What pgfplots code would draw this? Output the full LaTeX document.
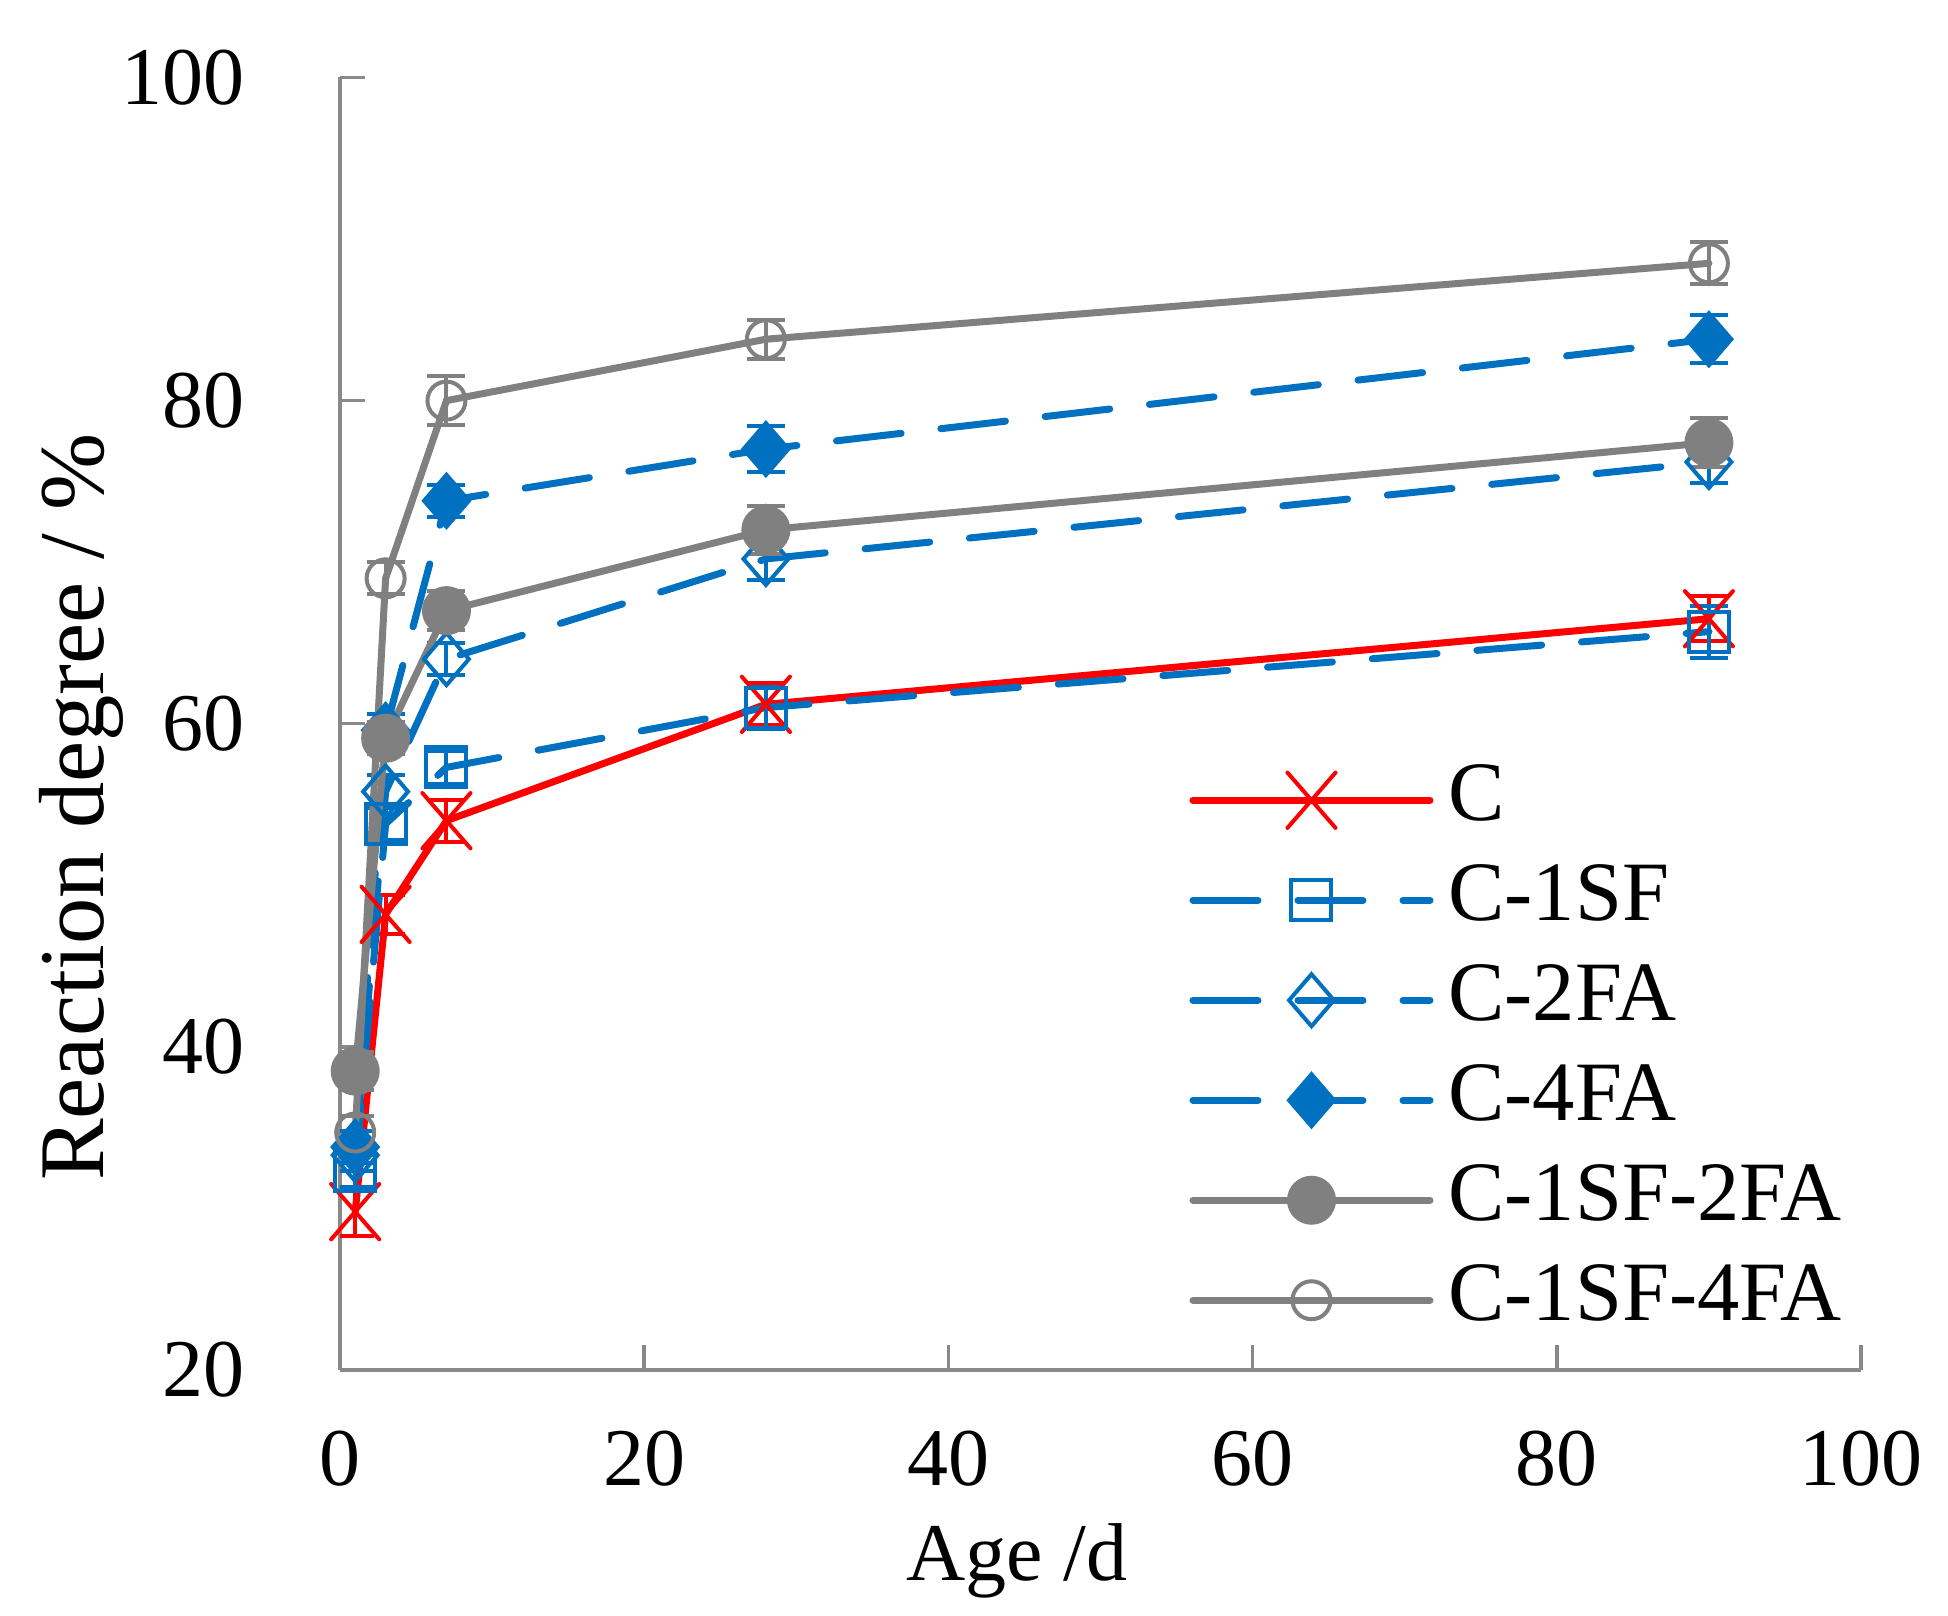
\documentclass[border=0pt]{standalone}
\usepackage{fontspec}
\setmainfont{Liberation Serif}
\usepackage{pgfplots}
\pgfplotsset{compat=1.18}
\definecolor{cred}{RGB}{255,0,0}
\definecolor{cblue}{RGB}{0,112,192}
\definecolor{cgray}{RGB}{128,128,128}
\definecolor{axgray}{RGB}{137,137,137}
\begin{document}
\fontsize{16.4}{19.7}\selectfont
\begin{tikzpicture}
\path[use as bounding box] (-68pt,-49pt) rectangle (321.6pt,274pt);
\begin{axis}[
  scale only axis, width=304.2pt, height=258.5pt,
  at={(0,0)}, anchor=south west,
  xmin=0, xmax=100, ymin=20, ymax=100,
  xtick={0,20,...,100}, ytick={20,40,...,100},
  axis lines*=left,
  axis line style={axgray, line width=0.8pt},
  tick style={axgray, line width=0.7pt},
  major tick length=5pt,
  tick align=inside,
  tick label style={font=\fontsize{16.4}{19.7}\selectfont},
  /pgf/number format/assume math mode=true,
  xticklabel style={yshift=-6.5pt},
  yticklabel style={xshift=-13.5pt},
  xlabel={Age /d}, ylabel={Reaction degree / \%},
  xlabel style={font=\fontsize{16.4}{19.7}\selectfont, at={(axis description cs:0.445,-0.1475)}, anchor=center},
  ylabel style={font=\fontsize{18.5}{22}\selectfont, at={(axis description cs:-0.170,0.4355)}, anchor=center},
  every axis plot/.append style={line width=1.4pt},
  legend cell align=left,
  legend style={draw=none, fill=none, inner sep=0pt, outer sep=0pt, row sep=0pt,
    at={(axis description cs:0.5585,0.4795)}, anchor=north west,
    font=\fontsize{16.9}{20}\selectfont,
    nodes={text height=11pt, text depth=3pt, inner sep=3pt},
    /tikz/every even column/.append style={column sep=3pt}},
  legend image code/.code={\draw[mark repeat=2,mark phase=2,#1] plot coordinates {(0pt,0pt) (23.7pt,0pt) (47.4pt,0pt)};},
  blued/.style={cblue, dash pattern=on 13pt off 8pt, line cap=round},
  errs/.style={error bars/.cd, y dir=both, y explicit,
     error bar style={solid, line width=0.8pt},
     error mark options={solid, rotate=90, mark size=3.8pt, line width=0.8pt}},
]
% C
\addplot[cred, line cap=round, mark=x, mark size=6.8pt, mark options={solid, line width=0.8pt, yscale=1.15}, errs]
 table[x=x, y=y, y error=e] {
x y e
1 29.8 1.5
3 48.2 1.2
7 54.0 1.3
28 61.2 1.3
90 66.5 1.4
};
\addlegendentry{C}
% C-1SF
\addplot[blued, mark=square, mark size=4pt, mark options={solid, line width=0.8pt}, errs]
 table[x=x, y=y, y error=e] {
x y e
1 32.3 1.0
3 53.8 1.0
7 57.3 1.0
28 61.0 1.3
90 65.7 1.6
};
\addlegendentry{C-1SF}
% C-2FA
\addplot[blued, mark=diamond, mark size=5.2pt, mark options={solid, line width=0.8pt, xscale=1.15}, errs]
 table[x=x, y=y, y error=e] {
x y e
1 33.3 1.0
3 55.8 1.0
7 64.0 1.0
28 70.2 1.3
90 76.2 1.3
};
\addlegendentry{C-2FA}
% C-4FA
\addplot[blued, mark=diamond*, mark size=5.2pt, mark options={solid, line width=0.8pt, xscale=1.15}, errs]
 table[x=x, y=y, y error=e] {
x y e
1 33.8 1.0
3 59.6 1.0
7 73.8 1.0
28 77.0 1.4
90 83.8 1.5
};
\addlegendentry{C-4FA}
% C-1SF-2FA
\addplot[cgray, line cap=round, mark=*, mark size=4.5pt, mark options={solid, line width=0.8pt}, errs]
 table[x=x, y=y, y error=e] {
x y e
1 38.5 1.2
3 59.1 1.0
7 67.0 1.2
28 72.0 1.5
90 77.4 1.5
};
\addlegendentry{C-1SF-2FA}
% C-1SF-4FA
\addplot[cgray, line cap=round, mark=o, mark size=3.8pt, mark options={solid, line width=0.8pt}, errs]
 table[x=x, y=y, y error=e] {
x y e
1 34.7 1.0
3 69.0 1.0
7 80.0 1.5
28 83.8 1.2
90 88.5 1.3
};
\addlegendentry{C-1SF-4FA}
\end{axis}
\end{tikzpicture}
\end{document}
